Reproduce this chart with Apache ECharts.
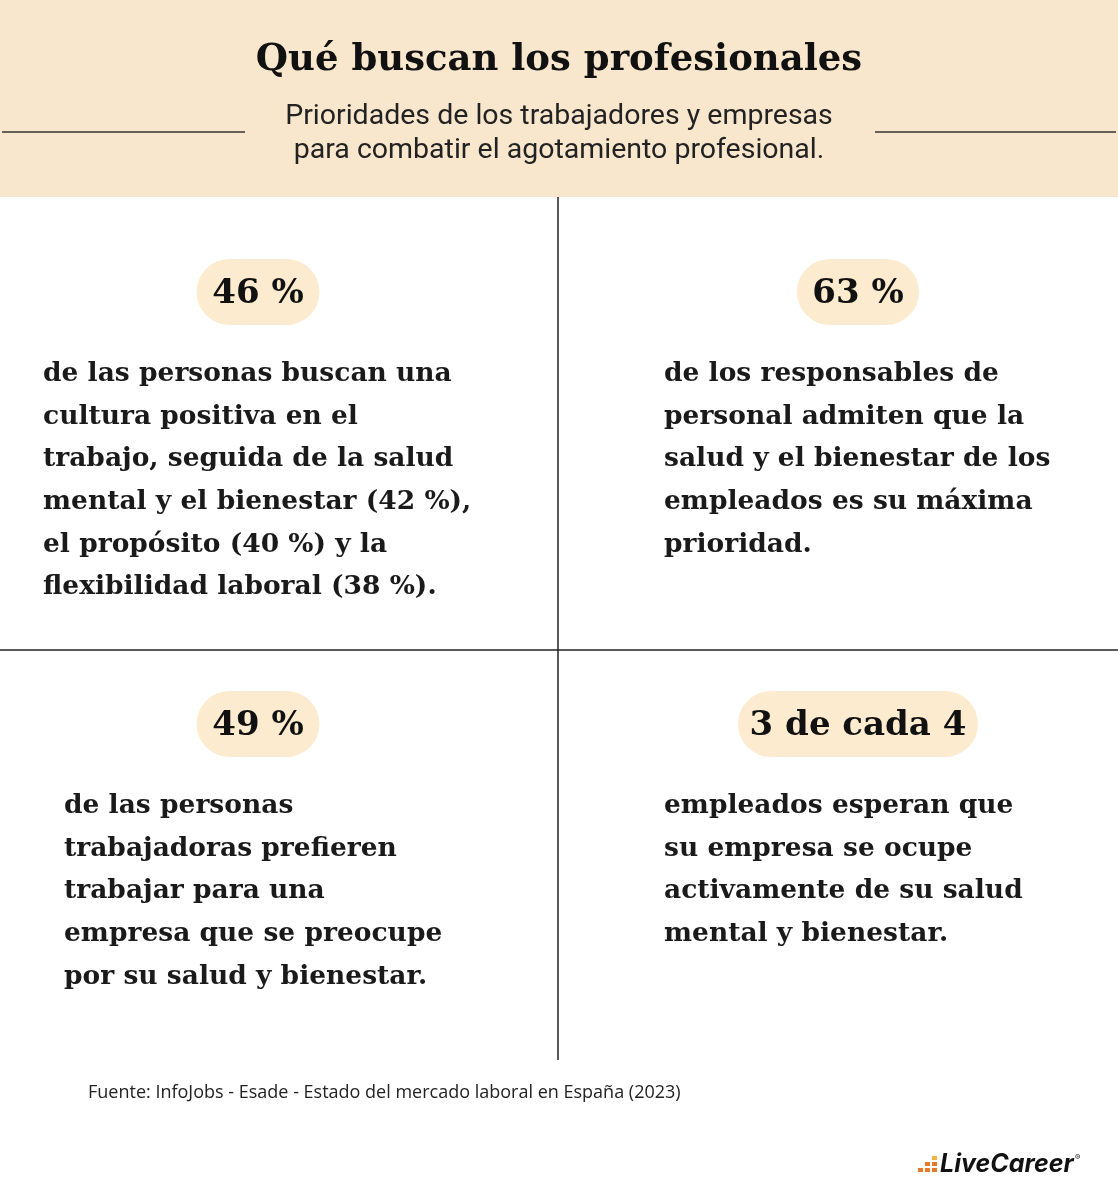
<!DOCTYPE html>
<html><head><meta charset="utf-8">
<script src="https://cdn.jsdelivr.net/npm/echarts@6/dist/echarts.min.js"></script>
<style>html,body{margin:0;padding:0;background:#fff}#c{width:1118px;height:1198px}</style>
</head><body><div id="c"></div>
<script>
const title = 'Qué buscan los profesionales';
const subtitle = ['Prioridades de los trabajadores y empresas', 'para combatir el agotamiento profesional.'];
const statValues = ['46 %', '63 %', '49 %', '3 de cada 4'];
const statTexts = [
  ['de las personas buscan una', 'cultura positiva en el', 'trabajo, seguida de la salud', 'mental y el bienestar (42 %),', 'el propósito (40 %) y la', 'flexibilidad laboral (38 %).'],
  ['de los responsables de', 'personal admiten que la', 'salud y el bienestar de los', 'empleados es su máxima', 'prioridad.'],
  ['de las personas', 'trabajadoras prefieren', 'trabajar para una', 'empresa que se preocupe', 'por su salud y bienestar.'],
  ['empleados esperan que', 'su empresa se ocupe', 'activamente de su salud', 'mental y bienestar.']
];
const source = 'Fuente: InfoJobs - Esade - Estado del mercado laboral en España (2023)';

const chart = echarts.init(document.getElementById('c'));
const serif = '"DejaVu Serif", "Liberation Serif", serif';
const g = [];
g.push({type:'rect', shape:{x:0,y:0,width:1118,height:197}, style:{fill:'#f9e7cd'}});
g.push({type:'text', x:559, y:60, style:{text:title, font:'bold 37px '+serif, fill:'#111', align:'center', verticalAlign:'middle'}});
g.push({type:'text', x:559, y:117, style:{text:subtitle[0], font:'28.5px Roboto', fill:'#222', align:'center', verticalAlign:'middle'}});
g.push({type:'text', x:559, y:151, style:{text:subtitle[1], font:'28.5px Roboto', fill:'#222', align:'center', verticalAlign:'middle'}});
g.push({type:'line', shape:{x1:2,y1:132,x2:245,y2:132}, style:{stroke:'#333',lineWidth:1.5}});
g.push({type:'line', shape:{x1:875,y1:132,x2:1116,y2:132}, style:{stroke:'#333',lineWidth:1.5}});
g.push({type:'line', shape:{x1:558,y1:197,x2:558,y2:1060}, style:{stroke:'#222',lineWidth:1.5}});
g.push({type:'line', shape:{x1:0,y1:650,x2:1118,y2:650}, style:{stroke:'#222',lineWidth:1.5}});
const cells = [
  {cx:258, py:292, tx:43, ty:374, pw:123},
  {cx:858, py:292, tx:664, ty:374, pw:122},
  {cx:258, py:724, tx:64, ty:806, pw:123},
  {cx:858, py:724, tx:664, ty:806, pw:240}
];
cells.forEach((c,i)=>{
  g.push({type:'rect', shape:{x:c.cx-c.pw/2, y:c.py-33, width:c.pw, height:66, r:33}, style:{fill:'#fdebd0'}});
  g.push({type:'text', x:c.cx, y:c.py+2, style:{text:statValues[i], font:'bold 34px '+serif, fill:'#111', align:'center', verticalAlign:'middle'}});
  statTexts[i].forEach((t,j)=>{
    g.push({type:'text', x:c.tx, y:c.ty+j*42.7, style:{text:t, font:'bold 26.5px '+serif, fill:'#1a1a1a', align:'left', verticalAlign:'middle'}});
  });
});
g.push({type:'text', x:88, y:1093, style:{text:source, font:'18px "Open Sans"', fill:'#222', align:'left', verticalAlign:'middle'}});
const sq = [[0,2],[1,2],[2,2],[1,1],[2,1],[2,0]];
sq.forEach(s=>g.push({type:'rect', shape:{x:918+s[0]*7, y:1156+s[1]*6, width:5, height:4}, style:{fill:s[1]===0?'#f5b041':'#e8782a'}}));
g.push({type:'text', x:940, y:1164, style:{text:'LiveCareer', font:'italic bold 25px Inter', fill:'#111', align:'left', verticalAlign:'middle'}});
g.push({type:'text', x:1075, y:1158, style:{text:'®', font:'8px Inter', fill:'#111', align:'left', verticalAlign:'middle'}});
chart.setOption({animation:false, graphic:{elements:g}});
</script></body></html>
